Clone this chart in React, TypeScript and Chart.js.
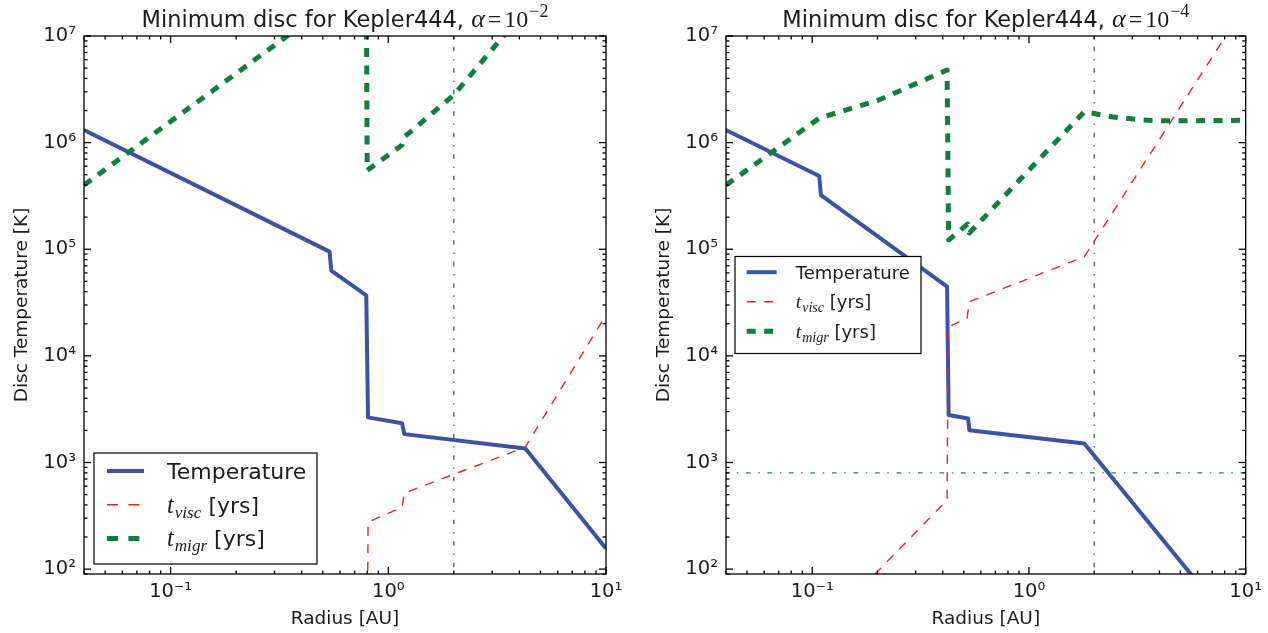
import React, { useEffect, useRef } from 'react';
import { Chart, registerables } from 'chart.js';

Chart.register(...registerables);

// ---------------- data ----------------
const xTickValues = [0.1, 1, 10];
const xTickLabels = ['10⁻¹', '10⁰', '10¹'];
const yTickValues = [1e2, 1e3, 1e4, 1e5, 1e6, 1e7];
const yTickLabels = ['10²', '10³', '10⁴', '10⁵', '10⁶', '10⁷'];
const seriesLabels = ['Temperature', 't_visc [yrs]', 't_migr [yrs]'];
const panelTitles = ['Minimum disc for Kepler444, ', 'Minimum disc for Kepler444, '];
const alphaExponents = ['−2', '−4'];
const xAxisLabel = 'Radius [AU]';
const yAxisLabel = 'Disc Temperature [K]';

// Left panel (alpha = 1e-2)
const leftTempR = [0.04, 0.537, 0.547, 0.792, 0.807, 1.156, 1.185, 4.26, 10];
const leftTempT = [1.31e6, 9.5e4, 6.3e4, 3.7e4, 2650, 2330, 1845, 1355, 156];
const leftViscR = [0.8, 0.807, 1.156, 1.185, 4.26, 10];
const leftViscT = [10, 276, 380, 516, 1393, 2.42e4];
const leftMigrR = [0.04, 0.792, 0.8, 1.156, 1.185, 2.0, 3.38, 4.26];
const leftMigrT = [4.0e5, 3.5e7, 5.5e5, 9.5e5, 1.13e6, 2.8e6, 1.0e7, 1.6e7];
const leftPlanetR = [2, 2];
const leftPlanetV = [1, 1e9];

// Right panel (alpha = 1e-4)
const rightTempR = [0.04, 0.1077, 0.1096, 0.419, 0.426, 0.524, 0.531, 1.8, 10];
const rightTempT = [1.31e6, 4.87e5, 3.22e5, 4.45e4, 2790, 2590, 2010, 1510, 21];
const rightViscR = [0.15, 0.419, 0.424, 0.518, 0.531, 1.8, 10];
const rightViscT = [52, 444, 1.87e4, 2.25e4, 3.22e4, 8.5e4, 1.96e7];
const rightMigrR = [0.04, 0.108, 0.203, 0.419, 0.426, 0.521, 0.531, 1.8, 2.4, 3.3, 4.26, 10];
const rightMigrT = [4.0e5, 1.7e6, 2.51e6, 4.8e6, 1.22e5, 1.72e5, 1.42e5, 1.95e6, 1.75e6, 1.63e6, 1.6e6, 1.62e6];
const rightPlanetR = [2, 2];
const rightPlanetV = [1, 1e9];
const rightLimitR = [0.01, 100];
const rightLimitV = [800, 800];

// ---------------- styles ----------------
const SANS = '"DejaVu Sans", sans-serif';
const SERIF = '"Liberation Serif", "DejaVu Serif", serif';
const INK = '#1c1c1c';
const BLUE = '#3a53a4';
const RED = '#f41e1e';
const GREEN = '#0f7f3e';
const GREEN_LINE = '#178a45';
const DASH = [9, 8.5];
const DASHDOT = [4.6, 7.7, 1.5, 7.7];

function pts(rs: number[], vs: number[]) {
  return rs.map((r, i) => ({ x: r, y: vs[i] }));
}

function labelFor(value: number, vals: number[], labels: string[]) {
  const i = vals.findIndex((t) => Math.abs(Math.log10(t) - Math.log10(value)) < 1e-6);
  return i >= 0 ? labels[i] : '';
}

function drawMathLabel(ctx: CanvasRenderingContext2D, label: string, x: number, cy: number, fs: number) {
  const base = cy + 0.365 * fs;
  ctx.fillStyle = INK;
  ctx.textAlign = 'left';
  ctx.textBaseline = 'alphabetic';
  const m = /^t_(\w+)\s(.*)$/.exec(label);
  if (!m) {
    ctx.font = `${fs}px ${SANS}`;
    ctx.fillText(label, x, base);
    return;
  }
  ctx.font = `italic ${fs * 1.1}px ${SERIF}`;
  ctx.fillText('t', x, base);
  let cx = x + ctx.measureText('t').width + 1;
  ctx.font = `italic ${fs * 0.78}px ${SERIF}`;
  ctx.fillText(m[1], cx, base + 0.22 * fs);
  cx += ctx.measureText(m[1]).width;
  ctx.font = `${fs}px ${SANS}`;
  ctx.fillText(' ' + m[2], cx, base);
}

const framePlugin = {
  id: 'mplFrame',
  afterDatasetsDraw(chart: any) {
    const { ctx, chartArea: a, scales } = chart;
    const xs = scales.x;
    const ys = scales.y;
    ctx.save();
    ctx.strokeStyle = '#000';
    ctx.lineWidth = 1.3;
    ctx.setLineDash([]);
    const seg = (x1: number, y1: number, x2: number, y2: number) => {
      ctx.beginPath();
      ctx.moveTo(x1, y1);
      ctx.lineTo(x2, y2);
      ctx.stroke();
    };
    const ticksFor = (min: number, max: number) => {
      const out: { v: number; major: boolean }[] = [];
      for (let d = Math.floor(Math.log10(min)); d <= Math.ceil(Math.log10(max)); d++) {
        for (let m = 1; m <= 9; m++) {
          const v = m * Math.pow(10, d);
          if (v >= min * 0.9999 && v <= max * 1.0001) out.push({ v, major: m === 1 });
        }
      }
      return out;
    };
    ticksFor(xs.min, xs.max).forEach(({ v, major }) => {
      const px = xs.getPixelForValue(v);
      const len = major ? 7 : 3.5;
      seg(px, a.bottom, px, a.bottom - len);
      seg(px, a.top, px, a.top + len);
    });
    ticksFor(ys.min, ys.max).forEach(({ v, major }) => {
      const py = ys.getPixelForValue(v);
      const len = major ? 7 : 3.5;
      seg(a.left, py, a.left + len, py);
      seg(a.right, py, a.right - len, py);
    });
    ctx.strokeRect(a.left, a.top, a.right - a.left, a.bottom - a.top);
    ctx.restore();
  },
};

const titlePlugin = {
  id: 'mplTitle',
  afterDraw(chart: any, _args: any, o: any) {
    const { ctx, chartArea: a } = chart;
    ctx.save();
    ctx.fillStyle = INK;
    ctx.textAlign = 'left';
    ctx.textBaseline = 'alphabetic';
    const parts = [
      { t: o.text, f: `22.5px ${SANS}`, dy: 0, gap: 0 },
      { t: 'α', f: `italic 26px ${SERIF}`, dy: 0, gap: 0 },
      { t: '=', f: `24px ${SERIF}`, dy: 0, gap: 3 },
      { t: '10', f: `24px ${SERIF}`, dy: 0, gap: 3 },
      { t: o.exponent, f: `18px ${SERIF}`, dy: -10, gap: 1 },
    ];
    let total = 0;
    const widths = parts.map((p) => {
      ctx.font = p.f;
      const w = ctx.measureText(p.t).width;
      total += w + p.gap;
      return w;
    });
    let x = (a.left + a.right) / 2 - total / 2;
    const base = 27;
    parts.forEach((p, i) => {
      x += p.gap;
      ctx.font = p.f;
      ctx.fillText(p.t, x, base + p.dy);
      x += widths[i];
    });
    ctx.restore();
  },
};

const legendPlugin = {
  id: 'mplLegend',
  afterDraw(chart: any, _args: any, o: any) {
    const { ctx, chartArea: a } = chart;
    const k = o.fontSize / 18;
    const bx = a.left + o.dx;
    const by = o.anchor === 'lower' ? a.bottom - o.dy - o.h : (a.top + a.bottom) / 2 - o.h / 2;
    ctx.save();
    ctx.fillStyle = '#ffffff';
    ctx.fillRect(bx, by, o.w, o.h);
    ctx.strokeStyle = '#000';
    ctx.lineWidth = 1.2;
    ctx.setLineDash([]);
    ctx.strokeRect(bx, by, o.w, o.h);
    chart.data.datasets.slice(0, 3).forEach((d: any, i: number) => {
      const cy = by + o.firstRow + i * o.rowGap;
      ctx.strokeStyle = d.borderColor;
      ctx.lineWidth = d.borderWidth;
      ctx.lineCap = 'butt';
      ctx.setLineDash((d.borderDash || []).map((v: number) => v * k));
      ctx.beginPath();
      ctx.moveTo(bx + o.sampleX0, cy);
      ctx.lineTo(bx + o.sampleX1, cy);
      ctx.stroke();
      ctx.setLineDash([]);
      drawMathLabel(ctx, d.label, bx + o.textX, cy, o.fontSize);
    });
    ctx.restore();
  },
};

function buildDatasets(p: any) {
  const ds: any[] = [
    { label: seriesLabels[0], data: pts(p.tempR, p.tempT), borderColor: BLUE, borderWidth: 4, order: 3 },
    { label: seriesLabels[1], data: pts(p.viscR, p.viscT), borderColor: RED, borderWidth: 1.4, borderDash: DASH, order: 2 },
    { label: seriesLabels[2], data: pts(p.migrR, p.migrT), borderColor: GREEN, borderWidth: 5, borderDash: DASH, order: 1 },
    { label: 'planet', data: pts(p.planetR, p.planetV), borderColor: BLUE, borderWidth: 1.3, borderDash: DASHDOT, order: 5 },
  ];
  if (p.limitR) {
    ds.push({ label: 'limit', data: pts(p.limitR, p.limitV), borderColor: GREEN_LINE, borderWidth: 1.3, borderDash: DASHDOT, order: 6 });
  }
  return ds.map((d) => ({
    showLine: true,
    pointRadius: 0,
    pointHoverRadius: 0,
    fill: false,
    clip: 0,
    tension: 0,
    borderJoinStyle: 'round',
    backgroundColor: d.borderColor,
    ...d,
  }));
}

const leftPanel = {
  tempR: leftTempR, tempT: leftTempT,
  viscR: leftViscR, viscT: leftViscT,
  migrR: leftMigrR, migrT: leftMigrT,
  planetR: leftPlanetR, planetV: leftPlanetV,
  title: panelTitles[0], exponent: alphaExponents[0],
  padRight: 34,
  legend: { fontSize: 22, anchor: 'lower', dx: 10, dy: 10, w: 223, h: 111, firstRow: 18, rowGap: 33.7, sampleX0: 13, sampleX1: 50, textX: 73 },
};

const rightPanel = {
  tempR: rightTempR, tempT: rightTempT,
  viscR: rightViscR, viscT: rightViscT,
  migrR: rightMigrR, migrT: rightMigrT,
  planetR: rightPlanetR, planetV: rightPlanetV,
  limitR: rightLimitR, limitV: rightLimitV,
  title: panelTitles[1], exponent: alphaExponents[1],
  padRight: 20,
  legend: { fontSize: 18, anchor: 'center', dx: 9, dy: 0, w: 186, h: 97, firstRow: 15.7, rowGap: 29.5, sampleX0: 11.7, sampleX1: 41.7, textX: 60.7 },
};

function Panel({ spec, left, width }: { spec: any; left: number; width: number }) {
  const ref = useRef<HTMLCanvasElement>(null);
  const height = 633;
  useEffect(() => {
    const chart = new Chart(ref.current as HTMLCanvasElement, {
      type: 'scatter',
      data: { datasets: buildDatasets(spec) },
      plugins: [framePlugin, titlePlugin, legendPlugin],
      options: {
        animation: false,
        responsive: false,
        devicePixelRatio: 1,
        layout: { padding: { top: 36, right: spec.padRight, left: 0, bottom: 0 } },
        plugins: {
          legend: { display: false },
          tooltip: { enabled: false },
          title: { display: false },
          mplTitle: { text: spec.title, exponent: spec.exponent },
          mplLegend: spec.legend,
        } as any,
        scales: {
          x: {
            type: 'logarithmic',
            min: 0.04,
            max: 10,
            grid: { display: false, drawTicks: false },
            border: { display: false },
            afterBuildTicks: (s: any) => {
              s.ticks = xTickValues.map((v) => ({ value: v }));
            },
            afterFit: (s: any) => {
              s.height = 59;
            },
            ticks: {
              autoSkip: false,
              maxRotation: 0,
              padding: 6,
              color: INK,
              font: { family: SANS, size: 19.5 },
              callback: (v: any) => labelFor(Number(v), xTickValues, xTickLabels),
            },
            title: {
              display: true,
              text: xAxisLabel,
              color: INK,
              font: { family: SANS, size: 18.5 },
              padding: { top: 0, bottom: 3 },
            },
          },
          y: {
            type: 'logarithmic',
            min: 90,
            max: 1e7,
            grid: { display: false, drawTicks: false },
            border: { display: false },
            afterBuildTicks: (s: any) => {
              s.ticks = yTickValues.map((v) => ({ value: v }));
            },
            afterFit: (s: any) => {
              s.width = 84;
            },
            ticks: {
              autoSkip: false,
              padding: 8,
              color: INK,
              font: { family: SANS, size: 19.5 },
              callback: (v: any) => labelFor(Number(v), yTickValues, yTickLabels),
            },
            title: {
              display: true,
              text: yAxisLabel,
              color: INK,
              font: { family: SANS, size: 18.5 },
              padding: { top: 11, bottom: 0 },
            },
          },
        },
      } as any,
    });
    return () => chart.destroy();
  }, [spec]);
  return (
    <canvas
      ref={ref}
      width={width}
      height={height}
      style={{ position: 'absolute', left, top: 0, width, height, display: 'block' }}
    />
  );
}

export default function App() {
  return (
    <div style={{ position: 'fixed', left: 0, top: 0, width: 1268, height: 633, background: '#ffffff', overflow: 'hidden' }}>
      <Panel spec={leftPanel} left={0} width={640} />
      <Panel spec={rightPanel} left={642} width={626} />
    </div>
  );
}
